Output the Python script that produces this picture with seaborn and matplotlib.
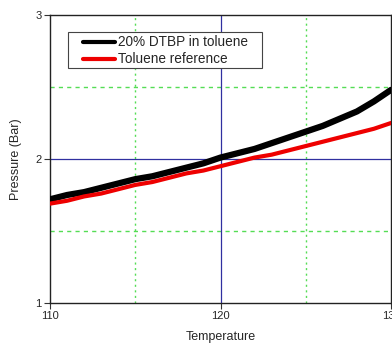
import matplotlib
matplotlib.use("Agg")
import matplotlib.pyplot as plt
import seaborn as sns
import pandas as pd
from matplotlib.patches import Rectangle

# Data
temp = [110, 111, 112, 113, 114, 115, 116, 117, 118, 119, 120,
        121, 122, 123, 124, 125, 126, 127, 128, 129, 130]
dtbp = [1.72, 1.75, 1.77, 1.80, 1.83, 1.86, 1.88, 1.91, 1.94, 1.97, 2.01,
        2.04, 2.07, 2.11, 2.15, 2.19, 2.23, 2.28, 2.33, 2.40, 2.48]
toluene = [1.69, 1.71, 1.74, 1.76, 1.79, 1.82, 1.84, 1.87, 1.90, 1.92, 1.95,
           1.98, 2.01, 2.03, 2.06, 2.09, 2.12, 2.15, 2.18, 2.21, 2.25]
series_names = ["20% DTBP in toluene", "Toluene reference"]
x_ticks = [110, 120, 130]
y_ticks = [1, 2, 3]

sns.set_style("white")
plt.rcParams["font.family"] = ["Liberation Sans", "DejaVu Sans"]

df = pd.DataFrame({
    "Temperature": temp * 2,
    "Pressure": dtbp + toluene,
    "Series": [series_names[0]] * len(temp) + [series_names[1]] * len(temp),
})

fig = plt.figure(figsize=(3.92, 3.43), dpi=100)
ax = fig.add_axes([50 / 392, 1 - 303 / 343, 341 / 392, 288 / 343])

# grid lines
for gx in [115, 125]:
    ax.axvline(gx, color="#55dd55", ls=(0, (1.5, 2.5)), lw=1.0, zorder=1)
for gy in [1.5, 2.5]:
    ax.axhline(gy, color="#55dd55", ls=(0, (3, 3)), lw=1.0, zorder=1)
ax.axvline(120, color="#3030a0", lw=0.9, zorder=1)
ax.axhline(2, color="#3030a0", lw=0.9, zorder=1)

sns.lineplot(data=df[df.Series == series_names[0]], x="Temperature", y="Pressure",
             color="black", lw=4.5, ax=ax, label=series_names[0], zorder=3)
sns.lineplot(data=df[df.Series == series_names[1]], x="Temperature", y="Pressure",
             color="#ee0000", lw=3, ax=ax, label=series_names[1], zorder=4)

ax.set_xlim(110, 130)
ax.set_ylim(1, 3)
ax.set_xticks(x_ticks)
ax.set_yticks(y_ticks)
ax.set_xticklabels([str(v) for v in x_ticks], fontsize=8)
ax.set_yticklabels([str(v) for v in y_ticks], fontsize=8)
ax.tick_params(axis="both", direction="out", length=4, width=0.8, color="#333333",
               left=True, bottom=True, pad=2)
ax.set_xlabel("Temperature", fontsize=9, labelpad=7)
ax.set_ylabel("Pressure (Bar)", fontsize=9, labelpad=10)
for s in ax.spines.values():
    s.set_color("#222222")
    s.set_linewidth(1.0)

# legend frame drawn separately (wide horizontal padding as in the reference)
frame = Rectangle((0.0528, 0.816), 0.569, 0.125, transform=ax.transAxes,
                  facecolor="white", edgecolor="#444444", lw=0.8, zorder=5)
ax.add_patch(frame)
leg = ax.legend(loc="upper left", bbox_to_anchor=(0.0968, 0.929), fontsize=9.8,
                frameon=False, handlelength=2.35, borderpad=0, labelspacing=0.22,
                handletextpad=0.25, borderaxespad=0)
leg.set_zorder(6)
for line in leg.get_lines():
    line.set_linewidth(3)

fig.savefig("out.png", dpi=100)
